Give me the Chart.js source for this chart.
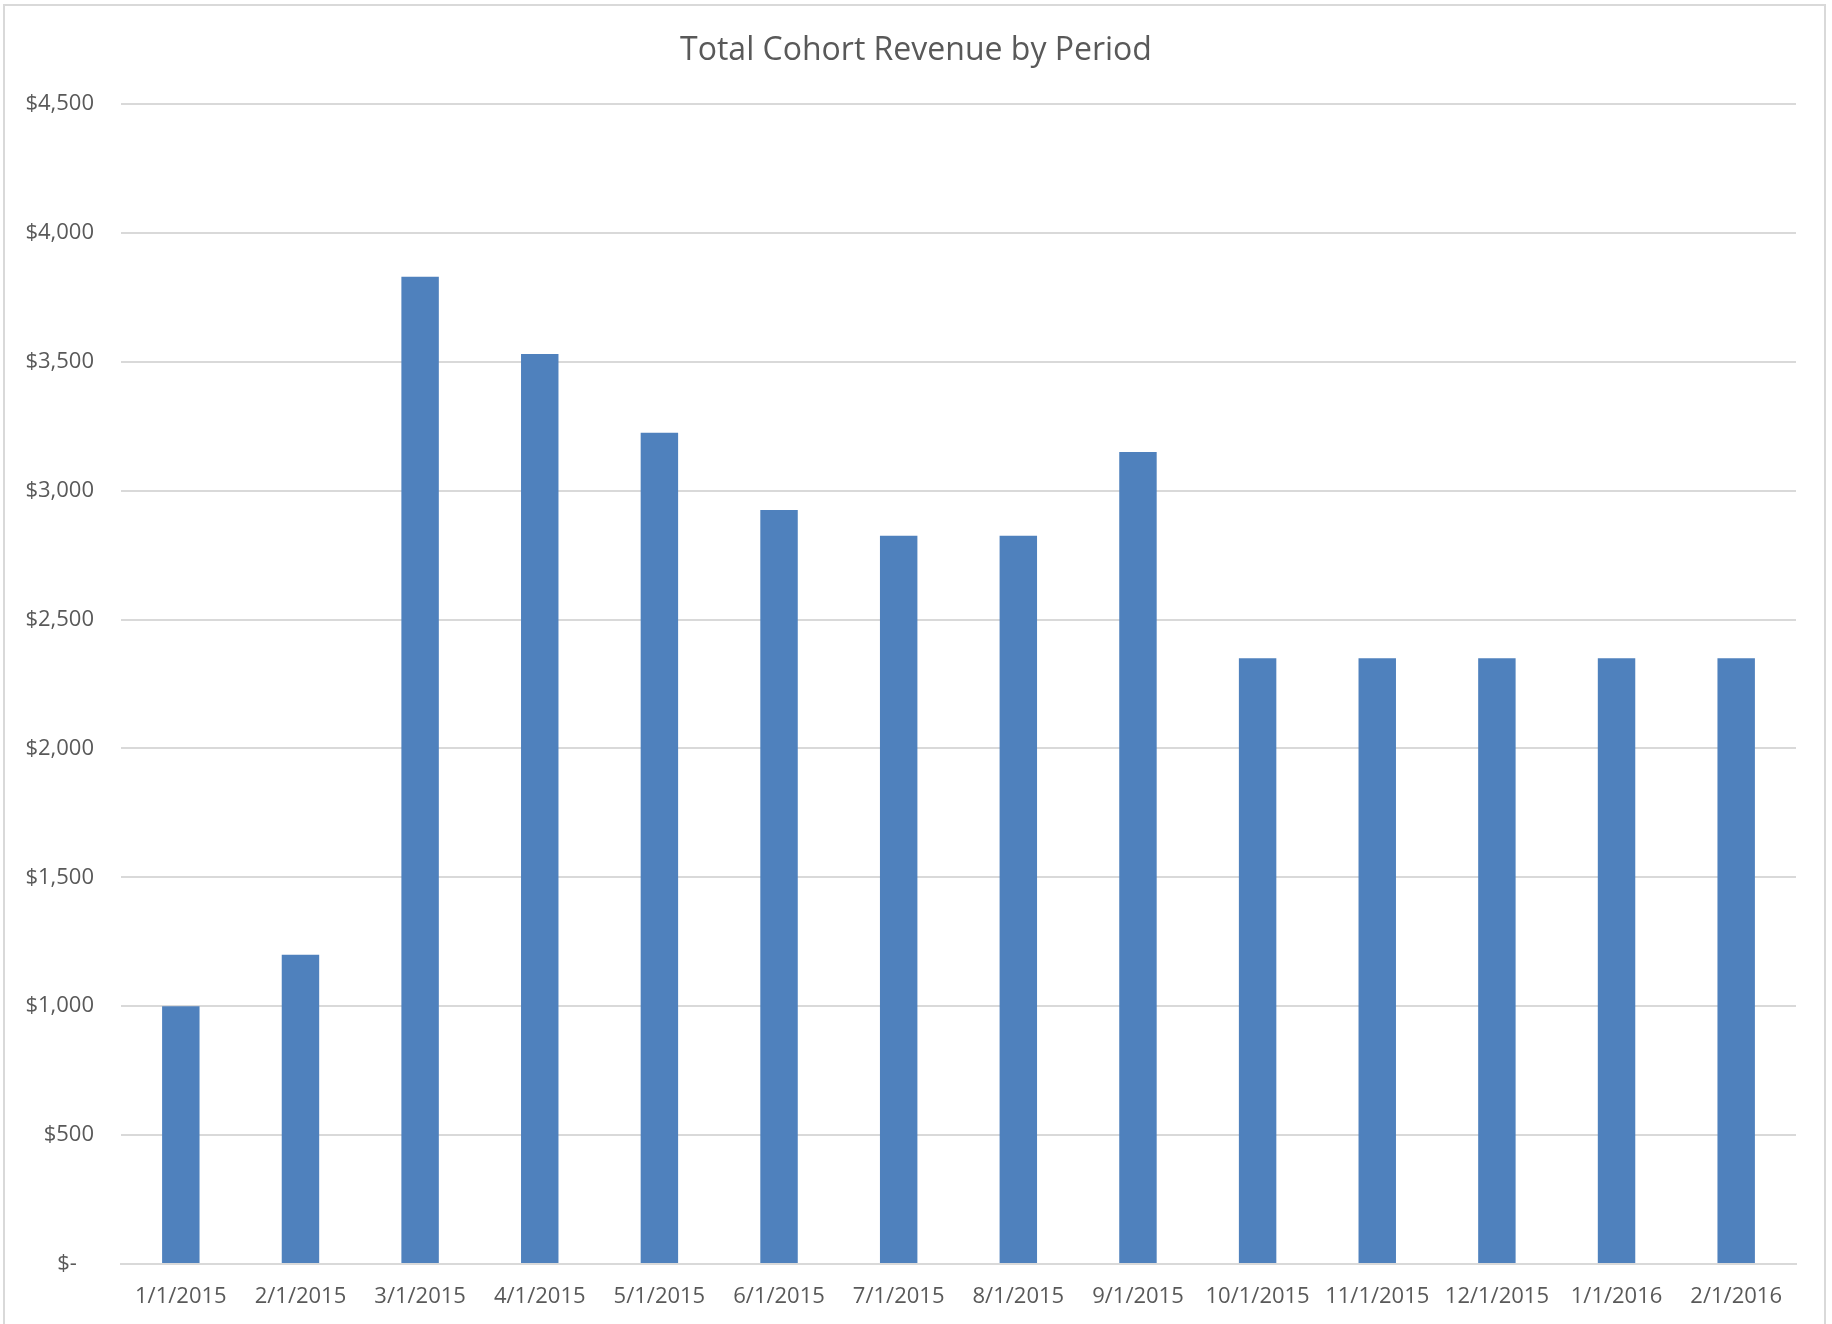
<!DOCTYPE html>
<html>
<head>
<meta charset="utf-8">
<script src="https://cdn.jsdelivr.net/npm/chart.js@4/dist/chart.umd.min.js"></script>
<style>
    html, body { margin: 0; padding: 0; background: #fff; }
    #wrap { width: 1832px; height: 1324px; }
</style>
</head>
<body>
<div id="wrap"><canvas id="revenueChart"></canvas></div>
<script>
// Chart data
const periods = ['1/1/2015', '2/1/2015', '3/1/2015', '4/1/2015', '5/1/2015', '6/1/2015', '7/1/2015',
    '8/1/2015', '9/1/2015', '10/1/2015', '11/1/2015', '12/1/2015', '1/1/2016', '2/1/2016'];
const revenue = [1000, 1200, 3830, 3530, 3225, 2925, 2825, 2825, 3150, 2350, 2350, 2350, 2350, 2350];
const yMax = 4500;
const yStep = 500;
const chartTitle = 'Total Cohort Revenue by Period';

const textColor = '#595959';
const gridColor = '#D9D9D9';

// white background, Excel-like frame and a title centred on the whole canvas
const framePlugin = {
    id: 'frame',
    beforeDraw(chart) {
        const ctx = chart.ctx;
        ctx.save();
        ctx.fillStyle = '#fff';
        ctx.fillRect(0, 0, chart.width, chart.height);
        ctx.strokeStyle = gridColor;
        ctx.lineWidth = 2;
        ctx.strokeRect(4, 5, 1821, 1340);
        ctx.restore();
    },
    afterDraw(chart) {
        const ctx = chart.ctx;
        ctx.save();
        ctx.fillStyle = textColor;
        ctx.font = '32px "Open Sans", sans-serif';
        ctx.textAlign = 'center';
        ctx.textBaseline = 'middle';
        ctx.fillText(chartTitle, chart.width / 2, 51);
        ctx.restore();
    }
};

function money(v) {
    if (v === 0) return '$-   ';
    return '$' + v.toLocaleString('en-US');
}

new Chart(document.getElementById('revenueChart').getContext('2d'), {
    type: 'bar',
    data: {
        labels: periods,
        datasets: [{
            label: 'Revenue',
            data: revenue,
            backgroundColor: '#4F81BD',
            borderWidth: 0,
            categoryPercentage: 1,
            barPercentage: 0.313
        }]
    },
    plugins: [framePlugin],
    options: {
        responsive: true,
        maintainAspectRatio: false,
        animation: false,
        layout: {
            padding: { left: 0, right: 36, top: 104, bottom: 0 }
        },
        plugins: {
            legend: { display: false },
            tooltip: { enabled: false },
            title: { display: false }
        },
        scales: {
            x: {
                grid: { display: false, drawTicks: false },
                border: { display: true, color: gridColor, width: 2 },
                ticks: {
                    color: textColor,
                    font: { family: '"Open Sans", sans-serif', size: 22 },
                    padding: 20,
                    maxRotation: 0,
                    autoSkip: false
                },
                afterFit(scale) { scale.height = 60; }
            },
            y: {
                min: 0,
                max: yMax,
                grid: { color: gridColor, lineWidth: 2, drawTicks: false },
                border: { display: false },
                ticks: {
                    stepSize: yStep,
                    color: textColor,
                    font: { family: '"Open Sans", sans-serif', size: 22 },
                    padding: 27,
                    callback: (v) => money(v)
                },
                afterFit(scale) { scale.width = 121; }
            }
        }
    }
});
</script>
</body>
</html>
